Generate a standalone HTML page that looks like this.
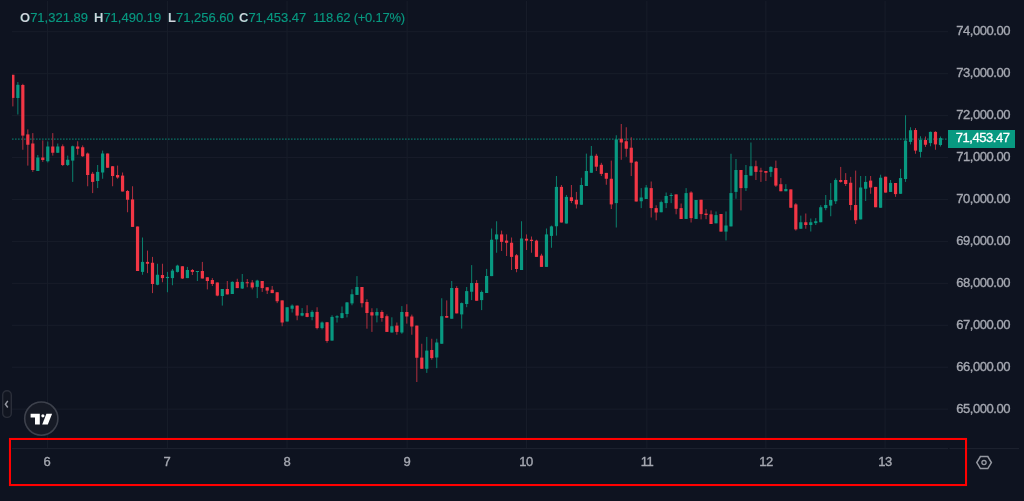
<!DOCTYPE html>
<html><head><meta charset="utf-8"><style>
html,body{margin:0;padding:0;}
body{width:1024px;height:501px;background:#0e1320;position:relative;overflow:hidden;font-family:"Liberation Sans",sans-serif;}
svg{position:absolute;left:0;top:0;}
.legend{position:absolute;top:10px;will-change:transform;-webkit-text-stroke:0.15px #089981;font-size:13px;line-height:16px;color:#089981;white-space:pre;}
.legend b{color:#d1d4dc;font-weight:bold;}
.pl{position:absolute;will-change:transform;left:939.6px;width:70px;text-align:right;font-size:13px;letter-spacing:-0.45px;line-height:15px;color:#a5a8b1;-webkit-text-stroke:0.35px #a5a8b1;}
.tl{position:absolute;will-change:transform;top:454px;width:40px;text-align:center;font-size:13px;letter-spacing:-0.45px;line-height:15px;color:#a5a8b1;-webkit-text-stroke:0.35px #a5a8b1;}
.plast{position:absolute;will-change:transform;left:948px;top:130.2px;width:67px;height:17.5px;background:#089981;color:#fff;font-size:13px;letter-spacing:-0.45px;line-height:16.6px;text-align:right;box-sizing:border-box;padding-right:5.5px;-webkit-text-stroke:0.3px #fff;}
.redbox{position:absolute;left:9px;top:438px;width:957.5px;height:48px;border:2px solid #ff0000;box-sizing:border-box;box-shadow:0 0 0.6px #ff0000, inset 0 0 0.6px #ff0000;}
</style></head><body>
<svg width="1024" height="501" viewBox="0 0 1024 501" >
<rect x="12" y="31.23" width="936" height="1" fill="#181d2a"/>
<rect x="12" y="73.17" width="936" height="1" fill="#181d2a"/>
<rect x="12" y="115.10" width="936" height="1" fill="#181d2a"/>
<rect x="12" y="157.04" width="936" height="1" fill="#181d2a"/>
<rect x="12" y="198.97" width="936" height="1" fill="#181d2a"/>
<rect x="12" y="240.91" width="936" height="1" fill="#181d2a"/>
<rect x="12" y="282.85" width="936" height="1" fill="#181d2a"/>
<rect x="12" y="324.78" width="936" height="1" fill="#181d2a"/>
<rect x="12" y="366.72" width="936" height="1" fill="#181d2a"/>
<rect x="12" y="408.65" width="936" height="1" fill="#181d2a"/>
<rect x="46.94" y="1" width="1" height="447" fill="#181d2a"/>
<rect x="167.06" y="1" width="1" height="447" fill="#181d2a"/>
<rect x="286.52" y="1" width="1" height="447" fill="#181d2a"/>
<rect x="406.66" y="1" width="1" height="447" fill="#181d2a"/>
<rect x="526.02" y="1" width="1" height="447" fill="#181d2a"/>
<rect x="646.34" y="1" width="1" height="447" fill="#181d2a"/>
<rect x="765.38" y="1" width="1" height="447" fill="#181d2a"/>
<rect x="884.58" y="1" width="1" height="447" fill="#181d2a"/>
<line x1="12" y1="139.1" x2="948" y2="139.1" stroke="#089981" stroke-width="1.2" stroke-dasharray="1.6 1.4" opacity="0.7"/>
<rect x="12.36" y="74.80" width="1" height="31.60" fill="#b02f3e"/>
<rect x="12.00" y="74.80" width="2.46" height="23.10" fill="#f23645"/>
<rect x="17.35" y="82.00" width="1" height="32.50" fill="#0a806d"/>
<rect x="16.25" y="84.80" width="3.20" height="13.20" fill="#089981"/>
<rect x="22.33" y="83.80" width="1" height="65.95" fill="#b02f3e"/>
<rect x="21.23" y="85.00" width="3.20" height="50.60" fill="#f23645"/>
<rect x="27.32" y="129.40" width="1" height="36.20" fill="#b02f3e"/>
<rect x="26.22" y="134.40" width="3.20" height="10.35" fill="#f23645"/>
<rect x="32.31" y="133.10" width="1" height="38.80" fill="#b02f3e"/>
<rect x="31.21" y="143.50" width="3.20" height="26.50" fill="#f23645"/>
<rect x="37.30" y="155.00" width="1" height="16.00" fill="#0a806d"/>
<rect x="36.20" y="157.50" width="3.20" height="13.50" fill="#089981"/>
<rect x="42.28" y="140.40" width="1" height="21.50" fill="#b02f3e"/>
<rect x="41.18" y="157.50" width="3.20" height="2.50" fill="#f23645"/>
<rect x="47.27" y="141.50" width="1" height="21.00" fill="#0a806d"/>
<rect x="46.17" y="146.50" width="3.20" height="14.75" fill="#089981"/>
<rect x="52.26" y="133.10" width="1" height="22.50" fill="#b02f3e"/>
<rect x="51.16" y="146.50" width="3.20" height="6.25" fill="#f23645"/>
<rect x="57.24" y="143.50" width="1" height="9.50" fill="#0a806d"/>
<rect x="56.14" y="146.50" width="3.20" height="6.25" fill="#089981"/>
<rect x="62.23" y="144.40" width="1" height="21.60" fill="#b02f3e"/>
<rect x="61.13" y="146.25" width="3.20" height="18.75" fill="#f23645"/>
<rect x="67.22" y="155.60" width="1" height="10.40" fill="#0a806d"/>
<rect x="66.12" y="159.75" width="3.20" height="5.25" fill="#089981"/>
<rect x="72.20" y="145.60" width="1" height="36.30" fill="#0a806d"/>
<rect x="71.10" y="146.25" width="3.20" height="14.35" fill="#089981"/>
<rect x="77.19" y="141.25" width="1" height="13.50" fill="#b02f3e"/>
<rect x="76.09" y="146.50" width="3.20" height="2.25" fill="#f23645"/>
<rect x="82.18" y="145.40" width="1" height="11.50" fill="#b02f3e"/>
<rect x="81.08" y="147.25" width="3.20" height="9.00" fill="#f23645"/>
<rect x="87.17" y="152.50" width="1" height="33.75" fill="#b02f3e"/>
<rect x="86.07" y="153.50" width="3.20" height="21.50" fill="#f23645"/>
<rect x="92.15" y="171.90" width="1" height="21.20" fill="#b02f3e"/>
<rect x="91.05" y="173.75" width="3.20" height="8.15" fill="#f23645"/>
<rect x="97.14" y="165.00" width="1" height="23.10" fill="#0a806d"/>
<rect x="96.04" y="171.90" width="3.20" height="9.10" fill="#089981"/>
<rect x="102.13" y="150.60" width="1" height="28.15" fill="#0a806d"/>
<rect x="101.03" y="153.50" width="3.20" height="19.00" fill="#089981"/>
<rect x="107.11" y="153.50" width="1" height="14.25" fill="#b02f3e"/>
<rect x="106.01" y="153.50" width="3.20" height="14.25" fill="#f23645"/>
<rect x="112.10" y="166.00" width="1" height="20.25" fill="#b02f3e"/>
<rect x="111.00" y="166.25" width="3.20" height="9.75" fill="#f23645"/>
<rect x="117.09" y="165.60" width="1" height="13.15" fill="#b02f3e"/>
<rect x="115.99" y="175.00" width="3.20" height="2.50" fill="#f23645"/>
<rect x="122.07" y="172.50" width="1" height="19.00" fill="#b02f3e"/>
<rect x="120.97" y="175.60" width="3.20" height="15.90" fill="#f23645"/>
<rect x="127.06" y="190.00" width="1" height="22.25" fill="#b02f3e"/>
<rect x="125.96" y="191.00" width="3.20" height="8.75" fill="#f23645"/>
<rect x="132.05" y="186.25" width="1" height="40.65" fill="#b02f3e"/>
<rect x="130.95" y="199.40" width="3.20" height="27.50" fill="#f23645"/>
<rect x="137.03" y="226.50" width="1" height="44.50" fill="#b02f3e"/>
<rect x="135.94" y="226.50" width="3.20" height="44.50" fill="#f23645"/>
<rect x="142.02" y="237.50" width="1" height="37.25" fill="#0a806d"/>
<rect x="140.92" y="261.90" width="3.20" height="10.00" fill="#089981"/>
<rect x="147.01" y="250.60" width="1" height="22.50" fill="#b02f3e"/>
<rect x="145.91" y="261.90" width="3.20" height="1.85" fill="#f23645"/>
<rect x="152.00" y="256.90" width="1" height="36.20" fill="#b02f3e"/>
<rect x="150.90" y="262.75" width="3.20" height="21.25" fill="#f23645"/>
<rect x="156.98" y="263.75" width="1" height="21.50" fill="#0a806d"/>
<rect x="155.88" y="274.75" width="3.20" height="10.00" fill="#089981"/>
<rect x="161.97" y="263.75" width="1" height="18.50" fill="#b02f3e"/>
<rect x="160.87" y="275.00" width="3.20" height="3.10" fill="#f23645"/>
<rect x="166.96" y="271.90" width="1" height="20.35" fill="#0a806d"/>
<rect x="165.86" y="276.90" width="3.20" height="1.20" fill="#089981"/>
<rect x="171.94" y="269.00" width="1" height="16.25" fill="#0a806d"/>
<rect x="170.84" y="270.60" width="3.20" height="7.50" fill="#089981"/>
<rect x="176.93" y="264.75" width="1" height="7.75" fill="#0a806d"/>
<rect x="175.83" y="265.60" width="3.20" height="6.30" fill="#089981"/>
<rect x="181.92" y="266.25" width="1" height="12.75" fill="#b02f3e"/>
<rect x="180.82" y="266.25" width="3.20" height="12.25" fill="#f23645"/>
<rect x="186.91" y="266.90" width="1" height="11.20" fill="#0a806d"/>
<rect x="185.81" y="270.00" width="3.20" height="8.10" fill="#089981"/>
<rect x="191.89" y="269.00" width="1" height="6.00" fill="#b02f3e"/>
<rect x="190.79" y="270.00" width="3.20" height="1.90" fill="#f23645"/>
<rect x="196.88" y="271.00" width="1" height="10.00" fill="#0a806d"/>
<rect x="195.78" y="271.00" width="3.20" height="1.00" fill="#089981"/>
<rect x="201.87" y="261.90" width="1" height="16.60" fill="#b02f3e"/>
<rect x="200.77" y="271.00" width="3.20" height="7.50" fill="#f23645"/>
<rect x="206.85" y="277.25" width="1" height="12.15" fill="#b02f3e"/>
<rect x="205.75" y="277.25" width="3.20" height="3.75" fill="#f23645"/>
<rect x="211.84" y="278.10" width="1" height="7.90" fill="#b02f3e"/>
<rect x="210.74" y="280.00" width="3.20" height="4.00" fill="#f23645"/>
<rect x="216.83" y="282.50" width="1" height="13.75" fill="#b02f3e"/>
<rect x="215.73" y="282.50" width="3.20" height="13.10" fill="#f23645"/>
<rect x="221.81" y="289.00" width="1" height="16.60" fill="#0a806d"/>
<rect x="220.71" y="289.00" width="3.20" height="7.00" fill="#089981"/>
<rect x="226.80" y="281.00" width="1" height="13.40" fill="#b02f3e"/>
<rect x="225.70" y="289.00" width="3.20" height="5.40" fill="#f23645"/>
<rect x="231.79" y="281.25" width="1" height="12.75" fill="#0a806d"/>
<rect x="230.69" y="281.90" width="3.20" height="12.10" fill="#089981"/>
<rect x="236.77" y="278.75" width="1" height="9.35" fill="#b02f3e"/>
<rect x="235.67" y="281.90" width="3.20" height="6.20" fill="#f23645"/>
<rect x="241.76" y="274.00" width="1" height="15.00" fill="#0a806d"/>
<rect x="240.66" y="281.90" width="3.20" height="6.60" fill="#089981"/>
<rect x="246.75" y="279.00" width="1" height="8.25" fill="#b02f3e"/>
<rect x="245.65" y="282.25" width="3.20" height="1.00" fill="#f23645"/>
<rect x="251.74" y="280.00" width="1" height="9.40" fill="#b02f3e"/>
<rect x="250.64" y="282.50" width="3.20" height="5.00" fill="#f23645"/>
<rect x="256.72" y="279.75" width="1" height="18.35" fill="#0a806d"/>
<rect x="255.62" y="280.60" width="3.20" height="6.30" fill="#089981"/>
<rect x="261.71" y="281.00" width="1" height="10.90" fill="#b02f3e"/>
<rect x="260.61" y="281.00" width="3.20" height="7.10" fill="#f23645"/>
<rect x="266.70" y="287.25" width="1" height="6.75" fill="#b02f3e"/>
<rect x="265.60" y="287.25" width="3.20" height="3.35" fill="#f23645"/>
<rect x="271.68" y="286.00" width="1" height="7.10" fill="#b02f3e"/>
<rect x="270.58" y="289.75" width="3.20" height="3.35" fill="#f23645"/>
<rect x="276.67" y="292.25" width="1" height="10.85" fill="#b02f3e"/>
<rect x="275.57" y="292.25" width="3.20" height="9.00" fill="#f23645"/>
<rect x="281.66" y="300.40" width="1" height="25.85" fill="#b02f3e"/>
<rect x="280.56" y="300.40" width="3.20" height="22.10" fill="#f23645"/>
<rect x="286.65" y="307.25" width="1" height="14.25" fill="#0a806d"/>
<rect x="285.55" y="307.25" width="3.20" height="14.25" fill="#089981"/>
<rect x="291.63" y="304.40" width="1" height="8.10" fill="#0a806d"/>
<rect x="290.53" y="305.60" width="3.20" height="3.15" fill="#089981"/>
<rect x="296.62" y="305.60" width="1" height="14.65" fill="#b02f3e"/>
<rect x="295.52" y="305.60" width="3.20" height="10.00" fill="#f23645"/>
<rect x="301.61" y="308.10" width="1" height="8.15" fill="#0a806d"/>
<rect x="300.51" y="313.10" width="3.20" height="2.50" fill="#089981"/>
<rect x="306.59" y="305.25" width="1" height="12.00" fill="#b02f3e"/>
<rect x="305.49" y="313.10" width="3.20" height="3.80" fill="#f23645"/>
<rect x="311.58" y="310.25" width="1" height="10.00" fill="#0a806d"/>
<rect x="310.48" y="311.90" width="3.20" height="5.00" fill="#089981"/>
<rect x="316.57" y="307.25" width="1" height="22.15" fill="#b02f3e"/>
<rect x="315.47" y="311.90" width="3.20" height="16.20" fill="#f23645"/>
<rect x="321.55" y="321.50" width="1" height="7.90" fill="#0a806d"/>
<rect x="320.45" y="322.50" width="3.20" height="5.60" fill="#089981"/>
<rect x="326.54" y="321.90" width="1" height="20.85" fill="#b02f3e"/>
<rect x="325.44" y="322.25" width="3.20" height="18.75" fill="#f23645"/>
<rect x="331.53" y="315.25" width="1" height="25.35" fill="#0a806d"/>
<rect x="330.43" y="316.90" width="3.20" height="23.70" fill="#089981"/>
<rect x="336.52" y="315.25" width="1" height="7.25" fill="#0a806d"/>
<rect x="335.42" y="316.25" width="3.20" height="1.25" fill="#089981"/>
<rect x="341.50" y="306.50" width="1" height="12.00" fill="#0a806d"/>
<rect x="340.40" y="313.10" width="3.20" height="4.90" fill="#089981"/>
<rect x="346.49" y="302.00" width="1" height="15.40" fill="#0a806d"/>
<rect x="345.39" y="302.40" width="3.20" height="11.60" fill="#089981"/>
<rect x="351.48" y="289.25" width="1" height="16.00" fill="#0a806d"/>
<rect x="350.38" y="294.25" width="3.20" height="9.15" fill="#089981"/>
<rect x="356.46" y="276.10" width="1" height="18.80" fill="#0a806d"/>
<rect x="355.36" y="287.00" width="3.20" height="7.90" fill="#089981"/>
<rect x="361.45" y="287.00" width="1" height="20.40" fill="#b02f3e"/>
<rect x="360.35" y="287.00" width="3.20" height="16.20" fill="#f23645"/>
<rect x="366.44" y="299.25" width="1" height="29.45" fill="#b02f3e"/>
<rect x="365.34" y="302.00" width="3.20" height="11.00" fill="#f23645"/>
<rect x="371.42" y="308.25" width="1" height="23.65" fill="#b02f3e"/>
<rect x="370.32" y="312.20" width="3.20" height="3.30" fill="#f23645"/>
<rect x="376.41" y="308.25" width="1" height="14.15" fill="#0a806d"/>
<rect x="375.31" y="312.00" width="3.20" height="3.50" fill="#089981"/>
<rect x="381.40" y="310.25" width="1" height="11.45" fill="#b02f3e"/>
<rect x="380.30" y="312.00" width="3.20" height="6.00" fill="#f23645"/>
<rect x="386.39" y="314.50" width="1" height="17.40" fill="#b02f3e"/>
<rect x="385.29" y="316.20" width="3.20" height="15.70" fill="#f23645"/>
<rect x="391.37" y="317.30" width="1" height="15.20" fill="#0a806d"/>
<rect x="390.27" y="326.25" width="3.20" height="6.25" fill="#089981"/>
<rect x="396.36" y="322.50" width="1" height="12.25" fill="#b02f3e"/>
<rect x="395.26" y="325.60" width="3.20" height="6.30" fill="#f23645"/>
<rect x="401.35" y="306.10" width="1" height="27.65" fill="#0a806d"/>
<rect x="400.25" y="312.00" width="3.20" height="20.50" fill="#089981"/>
<rect x="406.33" y="304.25" width="1" height="19.35" fill="#b02f3e"/>
<rect x="405.23" y="312.00" width="3.20" height="4.50" fill="#f23645"/>
<rect x="411.32" y="314.60" width="1" height="20.15" fill="#b02f3e"/>
<rect x="410.22" y="316.50" width="3.20" height="10.00" fill="#f23645"/>
<rect x="416.31" y="325.60" width="1" height="56.40" fill="#b02f3e"/>
<rect x="415.21" y="325.60" width="3.20" height="32.15" fill="#f23645"/>
<rect x="421.29" y="343.75" width="1" height="25.00" fill="#b02f3e"/>
<rect x="420.19" y="357.60" width="3.20" height="11.15" fill="#f23645"/>
<rect x="426.28" y="336.90" width="1" height="36.00" fill="#0a806d"/>
<rect x="425.18" y="350.60" width="3.20" height="18.15" fill="#089981"/>
<rect x="431.27" y="338.75" width="1" height="21.00" fill="#b02f3e"/>
<rect x="430.17" y="350.00" width="3.20" height="8.10" fill="#f23645"/>
<rect x="436.25" y="338.75" width="1" height="29.35" fill="#0a806d"/>
<rect x="435.15" y="342.50" width="3.20" height="15.00" fill="#089981"/>
<rect x="441.24" y="298.25" width="1" height="45.50" fill="#0a806d"/>
<rect x="440.14" y="316.20" width="3.20" height="27.55" fill="#089981"/>
<rect x="446.23" y="300.40" width="1" height="17.30" fill="#b02f3e"/>
<rect x="445.13" y="316.00" width="3.20" height="1.70" fill="#f23645"/>
<rect x="451.22" y="281.00" width="1" height="37.75" fill="#0a806d"/>
<rect x="450.12" y="288.00" width="3.20" height="30.75" fill="#089981"/>
<rect x="456.20" y="286.20" width="1" height="27.20" fill="#b02f3e"/>
<rect x="455.10" y="288.00" width="3.20" height="25.40" fill="#f23645"/>
<rect x="461.19" y="302.50" width="1" height="26.10" fill="#0a806d"/>
<rect x="460.09" y="303.10" width="3.20" height="11.30" fill="#089981"/>
<rect x="466.18" y="287.00" width="1" height="20.20" fill="#0a806d"/>
<rect x="465.08" y="291.10" width="3.20" height="12.90" fill="#089981"/>
<rect x="471.16" y="265.10" width="1" height="35.00" fill="#0a806d"/>
<rect x="470.06" y="283.00" width="3.20" height="8.75" fill="#089981"/>
<rect x="476.15" y="280.10" width="1" height="20.65" fill="#b02f3e"/>
<rect x="475.05" y="283.00" width="3.20" height="17.75" fill="#f23645"/>
<rect x="481.14" y="290.50" width="1" height="19.60" fill="#0a806d"/>
<rect x="480.04" y="292.00" width="3.20" height="8.10" fill="#089981"/>
<rect x="486.12" y="268.90" width="1" height="24.10" fill="#0a806d"/>
<rect x="485.02" y="276.00" width="3.20" height="17.00" fill="#089981"/>
<rect x="491.11" y="228.50" width="1" height="47.60" fill="#0a806d"/>
<rect x="490.01" y="239.75" width="3.20" height="36.35" fill="#089981"/>
<rect x="496.10" y="221.25" width="1" height="31.50" fill="#0a806d"/>
<rect x="495.00" y="234.40" width="3.20" height="5.00" fill="#089981"/>
<rect x="501.09" y="230.60" width="1" height="20.40" fill="#b02f3e"/>
<rect x="499.99" y="234.40" width="3.20" height="7.50" fill="#f23645"/>
<rect x="506.07" y="234.40" width="1" height="21.60" fill="#b02f3e"/>
<rect x="504.97" y="240.60" width="3.20" height="2.15" fill="#f23645"/>
<rect x="511.06" y="237.50" width="1" height="32.50" fill="#b02f3e"/>
<rect x="509.96" y="242.75" width="3.20" height="14.15" fill="#f23645"/>
<rect x="516.05" y="254.00" width="1" height="18.25" fill="#b02f3e"/>
<rect x="514.95" y="255.25" width="3.20" height="13.75" fill="#f23645"/>
<rect x="521.03" y="221.25" width="1" height="48.75" fill="#0a806d"/>
<rect x="519.93" y="238.50" width="3.20" height="31.50" fill="#089981"/>
<rect x="526.02" y="234.40" width="1" height="15.60" fill="#b02f3e"/>
<rect x="524.92" y="238.75" width="3.20" height="1.85" fill="#f23645"/>
<rect x="531.01" y="236.50" width="1" height="16.25" fill="#b02f3e"/>
<rect x="529.91" y="239.75" width="3.20" height="1.25" fill="#f23645"/>
<rect x="536.00" y="239.75" width="1" height="17.15" fill="#b02f3e"/>
<rect x="534.89" y="240.60" width="3.20" height="16.30" fill="#f23645"/>
<rect x="540.98" y="253.75" width="1" height="13.15" fill="#b02f3e"/>
<rect x="539.88" y="255.60" width="3.20" height="11.30" fill="#f23645"/>
<rect x="545.97" y="228.50" width="1" height="38.40" fill="#0a806d"/>
<rect x="544.87" y="234.40" width="3.20" height="32.50" fill="#089981"/>
<rect x="550.96" y="225.60" width="1" height="22.15" fill="#0a806d"/>
<rect x="549.86" y="226.40" width="3.20" height="9.50" fill="#089981"/>
<rect x="555.94" y="176.00" width="1" height="59.60" fill="#0a806d"/>
<rect x="554.84" y="186.90" width="3.20" height="39.35" fill="#089981"/>
<rect x="560.93" y="185.00" width="1" height="37.50" fill="#b02f3e"/>
<rect x="559.83" y="186.90" width="3.20" height="35.60" fill="#f23645"/>
<rect x="565.92" y="195.00" width="1" height="28.50" fill="#0a806d"/>
<rect x="564.82" y="196.90" width="3.20" height="26.60" fill="#089981"/>
<rect x="570.90" y="185.00" width="1" height="18.10" fill="#b02f3e"/>
<rect x="569.80" y="197.25" width="3.20" height="3.75" fill="#f23645"/>
<rect x="575.89" y="191.90" width="1" height="16.60" fill="#b02f3e"/>
<rect x="574.79" y="199.75" width="3.20" height="4.65" fill="#f23645"/>
<rect x="580.88" y="177.75" width="1" height="27.00" fill="#0a806d"/>
<rect x="579.78" y="185.00" width="3.20" height="19.75" fill="#089981"/>
<rect x="585.87" y="153.60" width="1" height="32.40" fill="#0a806d"/>
<rect x="584.76" y="171.00" width="3.20" height="15.00" fill="#089981"/>
<rect x="590.85" y="146.00" width="1" height="26.75" fill="#0a806d"/>
<rect x="589.75" y="155.75" width="3.20" height="17.00" fill="#089981"/>
<rect x="595.84" y="153.80" width="1" height="17.20" fill="#b02f3e"/>
<rect x="594.74" y="155.75" width="3.20" height="10.95" fill="#f23645"/>
<rect x="600.83" y="162.80" width="1" height="13.20" fill="#b02f3e"/>
<rect x="599.73" y="164.80" width="3.20" height="9.10" fill="#f23645"/>
<rect x="605.81" y="172.90" width="1" height="11.85" fill="#b02f3e"/>
<rect x="604.71" y="172.90" width="3.20" height="5.85" fill="#f23645"/>
<rect x="610.80" y="160.60" width="1" height="48.40" fill="#b02f3e"/>
<rect x="609.70" y="178.75" width="3.20" height="25.65" fill="#f23645"/>
<rect x="615.79" y="135.25" width="1" height="92.25" fill="#0a806d"/>
<rect x="614.69" y="139.40" width="3.20" height="63.70" fill="#089981"/>
<rect x="620.77" y="124.00" width="1" height="35.80" fill="#b02f3e"/>
<rect x="619.67" y="138.75" width="3.20" height="3.75" fill="#f23645"/>
<rect x="625.76" y="127.25" width="1" height="29.55" fill="#b02f3e"/>
<rect x="624.66" y="141.25" width="3.20" height="7.50" fill="#f23645"/>
<rect x="630.75" y="137.25" width="1" height="38.75" fill="#b02f3e"/>
<rect x="629.65" y="147.70" width="3.20" height="15.00" fill="#f23645"/>
<rect x="635.74" y="160.90" width="1" height="40.60" fill="#b02f3e"/>
<rect x="634.63" y="161.70" width="3.20" height="39.80" fill="#f23645"/>
<rect x="640.72" y="188.10" width="1" height="20.00" fill="#0a806d"/>
<rect x="639.62" y="197.50" width="3.20" height="3.75" fill="#089981"/>
<rect x="645.71" y="185.00" width="1" height="14.00" fill="#0a806d"/>
<rect x="644.61" y="187.50" width="3.20" height="11.50" fill="#089981"/>
<rect x="650.70" y="181.50" width="1" height="36.00" fill="#b02f3e"/>
<rect x="649.60" y="188.10" width="3.20" height="20.00" fill="#f23645"/>
<rect x="655.68" y="205.25" width="1" height="15.00" fill="#b02f3e"/>
<rect x="654.58" y="208.10" width="3.20" height="4.40" fill="#f23645"/>
<rect x="660.67" y="200.60" width="1" height="11.65" fill="#0a806d"/>
<rect x="659.57" y="202.10" width="3.20" height="10.15" fill="#089981"/>
<rect x="665.66" y="192.50" width="1" height="15.60" fill="#0a806d"/>
<rect x="664.56" y="196.00" width="3.20" height="7.10" fill="#089981"/>
<rect x="670.64" y="193.10" width="1" height="10.00" fill="#0a806d"/>
<rect x="669.54" y="195.00" width="3.20" height="1.00" fill="#089981"/>
<rect x="675.63" y="194.40" width="1" height="19.90" fill="#b02f3e"/>
<rect x="674.53" y="194.40" width="3.20" height="14.40" fill="#f23645"/>
<rect x="680.62" y="203.50" width="1" height="15.50" fill="#b02f3e"/>
<rect x="679.52" y="208.10" width="3.20" height="10.90" fill="#f23645"/>
<rect x="685.61" y="188.10" width="1" height="30.80" fill="#0a806d"/>
<rect x="684.50" y="193.10" width="3.20" height="25.80" fill="#089981"/>
<rect x="690.59" y="191.25" width="1" height="31.25" fill="#b02f3e"/>
<rect x="689.49" y="192.50" width="3.20" height="25.60" fill="#f23645"/>
<rect x="695.58" y="200.00" width="1" height="18.90" fill="#0a806d"/>
<rect x="694.48" y="200.00" width="3.20" height="18.90" fill="#089981"/>
<rect x="700.57" y="199.75" width="1" height="19.65" fill="#b02f3e"/>
<rect x="699.47" y="199.75" width="3.20" height="14.35" fill="#f23645"/>
<rect x="705.55" y="209.20" width="1" height="10.00" fill="#b02f3e"/>
<rect x="704.45" y="213.60" width="3.20" height="1.40" fill="#f23645"/>
<rect x="710.54" y="210.40" width="1" height="13.60" fill="#b02f3e"/>
<rect x="709.44" y="214.30" width="3.20" height="9.70" fill="#f23645"/>
<rect x="715.53" y="211.45" width="1" height="11.85" fill="#0a806d"/>
<rect x="714.43" y="215.10" width="3.20" height="8.20" fill="#089981"/>
<rect x="720.51" y="214.00" width="1" height="17.60" fill="#b02f3e"/>
<rect x="719.41" y="214.00" width="3.20" height="17.60" fill="#f23645"/>
<rect x="725.50" y="211.45" width="1" height="29.05" fill="#0a806d"/>
<rect x="724.40" y="225.50" width="3.20" height="6.10" fill="#089981"/>
<rect x="730.49" y="153.75" width="1" height="72.65" fill="#0a806d"/>
<rect x="729.39" y="193.10" width="3.20" height="33.30" fill="#089981"/>
<rect x="735.48" y="159.00" width="1" height="39.75" fill="#0a806d"/>
<rect x="734.38" y="170.00" width="3.20" height="21.90" fill="#089981"/>
<rect x="740.46" y="170.00" width="1" height="40.40" fill="#b02f3e"/>
<rect x="739.36" y="170.00" width="3.20" height="18.10" fill="#f23645"/>
<rect x="745.45" y="165.00" width="1" height="26.00" fill="#0a806d"/>
<rect x="744.35" y="175.00" width="3.20" height="13.10" fill="#089981"/>
<rect x="750.44" y="142.50" width="1" height="33.10" fill="#0a806d"/>
<rect x="749.34" y="166.25" width="3.20" height="9.35" fill="#089981"/>
<rect x="755.42" y="160.60" width="1" height="19.40" fill="#b02f3e"/>
<rect x="754.32" y="166.25" width="3.20" height="5.65" fill="#f23645"/>
<rect x="760.41" y="167.75" width="1" height="14.15" fill="#b02f3e"/>
<rect x="759.31" y="170.60" width="3.20" height="1.00" fill="#f23645"/>
<rect x="765.40" y="171.00" width="1" height="10.00" fill="#b02f3e"/>
<rect x="764.30" y="171.00" width="3.20" height="1.75" fill="#f23645"/>
<rect x="770.38" y="166.25" width="1" height="10.65" fill="#0a806d"/>
<rect x="769.28" y="166.90" width="3.20" height="5.00" fill="#089981"/>
<rect x="775.37" y="160.60" width="1" height="26.30" fill="#b02f3e"/>
<rect x="774.27" y="168.10" width="3.20" height="17.50" fill="#f23645"/>
<rect x="780.36" y="178.10" width="1" height="13.15" fill="#b02f3e"/>
<rect x="779.26" y="184.20" width="3.20" height="7.05" fill="#f23645"/>
<rect x="785.35" y="184.20" width="1" height="7.05" fill="#0a806d"/>
<rect x="784.25" y="189.00" width="3.20" height="2.25" fill="#089981"/>
<rect x="790.33" y="189.40" width="1" height="18.35" fill="#b02f3e"/>
<rect x="789.23" y="189.40" width="3.20" height="18.35" fill="#f23645"/>
<rect x="795.32" y="203.10" width="1" height="27.50" fill="#b02f3e"/>
<rect x="794.22" y="204.40" width="3.20" height="25.00" fill="#f23645"/>
<rect x="800.31" y="215.60" width="1" height="13.15" fill="#0a806d"/>
<rect x="799.21" y="222.25" width="3.20" height="6.50" fill="#089981"/>
<rect x="805.29" y="213.50" width="1" height="15.25" fill="#b02f3e"/>
<rect x="804.19" y="222.25" width="3.20" height="2.75" fill="#f23645"/>
<rect x="810.28" y="218.50" width="1" height="13.00" fill="#0a806d"/>
<rect x="809.18" y="222.25" width="3.20" height="2.75" fill="#089981"/>
<rect x="815.27" y="218.10" width="1" height="6.90" fill="#0a806d"/>
<rect x="814.17" y="221.25" width="3.20" height="1.85" fill="#089981"/>
<rect x="820.25" y="205.25" width="1" height="17.00" fill="#0a806d"/>
<rect x="819.15" y="207.25" width="3.20" height="15.00" fill="#089981"/>
<rect x="825.24" y="195.00" width="1" height="15.25" fill="#0a806d"/>
<rect x="824.14" y="205.00" width="3.20" height="3.10" fill="#089981"/>
<rect x="830.23" y="183.10" width="1" height="33.15" fill="#0a806d"/>
<rect x="829.13" y="200.00" width="3.20" height="5.60" fill="#089981"/>
<rect x="835.22" y="178.40" width="1" height="25.60" fill="#0a806d"/>
<rect x="834.12" y="180.00" width="3.20" height="21.25" fill="#089981"/>
<rect x="840.20" y="166.90" width="1" height="15.70" fill="#b02f3e"/>
<rect x="839.10" y="180.00" width="3.20" height="1.90" fill="#f23645"/>
<rect x="845.19" y="173.10" width="1" height="12.90" fill="#b02f3e"/>
<rect x="844.09" y="180.00" width="3.20" height="4.00" fill="#f23645"/>
<rect x="850.18" y="176.90" width="1" height="33.35" fill="#b02f3e"/>
<rect x="849.08" y="182.75" width="3.20" height="22.25" fill="#f23645"/>
<rect x="855.16" y="170.60" width="1" height="53.40" fill="#b02f3e"/>
<rect x="854.06" y="205.00" width="3.20" height="15.25" fill="#f23645"/>
<rect x="860.15" y="176.00" width="1" height="43.40" fill="#0a806d"/>
<rect x="859.05" y="187.50" width="3.20" height="31.90" fill="#089981"/>
<rect x="865.14" y="176.00" width="1" height="25.00" fill="#0a806d"/>
<rect x="864.04" y="181.90" width="3.20" height="6.85" fill="#089981"/>
<rect x="870.12" y="176.00" width="1" height="17.75" fill="#b02f3e"/>
<rect x="869.02" y="180.60" width="3.20" height="6.90" fill="#f23645"/>
<rect x="875.11" y="186.90" width="1" height="20.35" fill="#b02f3e"/>
<rect x="874.01" y="186.90" width="3.20" height="20.35" fill="#f23645"/>
<rect x="880.10" y="174.70" width="1" height="33.05" fill="#0a806d"/>
<rect x="879.00" y="177.75" width="3.20" height="30.00" fill="#089981"/>
<rect x="885.09" y="176.70" width="1" height="15.90" fill="#b02f3e"/>
<rect x="883.99" y="176.70" width="3.20" height="15.90" fill="#f23645"/>
<rect x="890.07" y="180.00" width="1" height="11.95" fill="#0a806d"/>
<rect x="888.97" y="182.90" width="3.20" height="9.05" fill="#089981"/>
<rect x="895.06" y="183.00" width="1" height="13.85" fill="#b02f3e"/>
<rect x="893.96" y="183.00" width="3.20" height="11.10" fill="#f23645"/>
<rect x="900.05" y="168.90" width="1" height="24.90" fill="#0a806d"/>
<rect x="898.95" y="178.05" width="3.20" height="15.75" fill="#089981"/>
<rect x="905.03" y="115.25" width="1" height="66.65" fill="#0a806d"/>
<rect x="903.93" y="140.60" width="3.20" height="38.40" fill="#089981"/>
<rect x="910.02" y="127.25" width="1" height="17.15" fill="#0a806d"/>
<rect x="908.92" y="130.25" width="3.20" height="11.65" fill="#089981"/>
<rect x="915.01" y="128.10" width="1" height="25.65" fill="#b02f3e"/>
<rect x="913.91" y="130.00" width="3.20" height="20.60" fill="#f23645"/>
<rect x="919.99" y="136.25" width="1" height="21.25" fill="#0a806d"/>
<rect x="918.89" y="140.00" width="3.20" height="11.90" fill="#089981"/>
<rect x="924.98" y="136.50" width="1" height="10.40" fill="#b02f3e"/>
<rect x="923.88" y="140.00" width="3.20" height="4.75" fill="#f23645"/>
<rect x="929.97" y="131.50" width="1" height="14.75" fill="#0a806d"/>
<rect x="928.87" y="131.90" width="3.20" height="11.20" fill="#089981"/>
<rect x="934.96" y="131.25" width="1" height="18.50" fill="#b02f3e"/>
<rect x="933.86" y="131.90" width="3.20" height="12.50" fill="#f23645"/>
<rect x="939.94" y="136.50" width="1" height="10.00" fill="#0a806d"/>
<rect x="938.84" y="138.10" width="3.20" height="6.90" fill="#089981"/>
<rect x="12" y="448.1" width="936" height="1" fill="#1f2430"/>
<rect x="949.5" y="448.1" width="69.5" height="1" fill="#1f2430"/>
</svg>
<div class="legend" style="left:20px"><b>O</b>71,321.89</div>
<div class="legend" style="left:94px"><b>H</b>71,490.19</div>
<div class="legend" style="left:167.5px"><b>L</b>71,256.60</div>
<div class="legend" style="left:239px"><b>C</b>71,453.47</div>
<div class="legend" style="left:313px;letter-spacing:-0.25px">118.62 (+0.17%)</div>
<div class="pl" style="top:23.0px">74,000.00</div>
<div class="pl" style="top:65.0px">73,000.00</div>
<div class="pl" style="top:106.9px">72,000.00</div>
<div class="pl" style="top:148.8px">71,000.00</div>
<div class="pl" style="top:190.8px">70,000.00</div>
<div class="pl" style="top:232.7px">69,000.00</div>
<div class="pl" style="top:274.6px">68,000.00</div>
<div class="pl" style="top:316.6px">67,000.00</div>
<div class="pl" style="top:358.5px">66,000.00</div>
<div class="pl" style="top:400.5px">65,000.00</div>
<div class="plast">71,453.47</div>
<div class="tl" style="left:27.1px">6</div>
<div class="tl" style="left:147.3px">7</div>
<div class="tl" style="left:266.7px">8</div>
<div class="tl" style="left:386.9px">9</div>
<div class="tl" style="left:506.2px">10</div>
<div class="tl" style="left:626.5px">11</div>
<div class="tl" style="left:745.6px">12</div>
<div class="tl" style="left:864.8px">13</div>
<svg width="1024" height="501" viewBox="0 0 1024 501" style="position:absolute;left:0;top:0">
<circle cx="41.3" cy="418.6" r="16.6" fill="#161a25" stroke="#3d414c" stroke-width="1.6"/>
<path d="M30.6 413.8 H39.8 V424.4 H35.0 V417.6 H30.6 Z" fill="#fff"/>
<circle cx="42.9" cy="415.8" r="1.6" fill="#fff"/>
<path d="M46.4 413.8 H52.1 L47.8 424.4 H42.2 Z" fill="#fff"/>
<rect x="2.7" y="390.8" width="8.6" height="26.6" rx="4.2" fill="#111520" stroke="#2a2e39" stroke-width="1.4"/>
<path d="M7.8 400.9 L5.4 404.2 L7.8 407.5" fill="none" stroke="#9598a1" stroke-width="1.5"/>
<path d="M980.4 456.6 L987.8 456.6 L991.4 462.6 L987.8 468.6 L980.4 468.6 L976.8 462.6 Z" fill="none" stroke="#9598a1" stroke-width="1.5"/>
<circle cx="984" cy="462.6" r="2.1" fill="none" stroke="#9598a1" stroke-width="1.3"/>
</svg>
<div class="redbox"></div>
</body></html>
